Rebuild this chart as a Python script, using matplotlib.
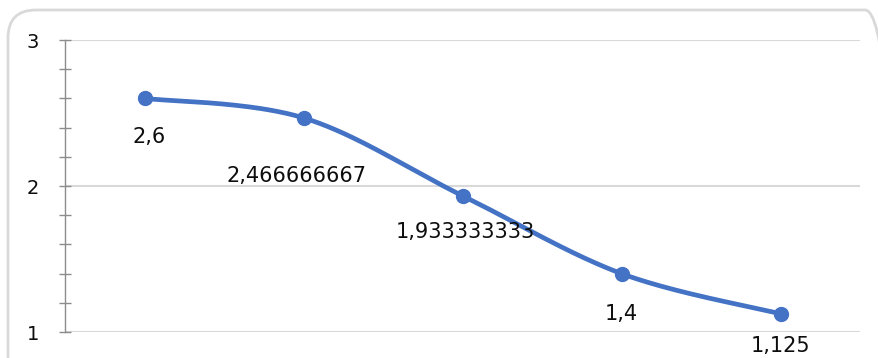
import numpy as np
import matplotlib
matplotlib.use("Agg")
import matplotlib.pyplot as plt
from matplotlib.patches import FancyBboxPatch
from matplotlib.ticker import MultipleLocator, NullFormatter

# Series data
categories = ["1", "2", "3", "4", "5"]
values = [2.6, 2.466666667, 1.933333333, 1.4, 1.125]
y_ticks = [1, 2, 3]

LINE_COLOR = "#4472C4"
GRID_COLOR = "#D9D9D9"
AXIS_COLOR = "#8C8C8C"
TEXT_COLOR = "#0D0D0D"

W, H, DPI = 879, 358, 100
fig = plt.figure(figsize=(W / DPI, H / DPI), dpi=DPI)
plt.rcParams["font.family"] = ["DejaVu Sans"]

# Rounded chart frame (inch coordinates)
frame = FancyBboxPatch((0.08, -0.3), 8.85, 3.78,
                       boxstyle="round,pad=0,rounding_size=0.28",
                       transform=fig.dpi_scale_trans, facecolor="none",
                       edgecolor="#D9D9D9", linewidth=2, zorder=-1)
fig.patches.append(frame)

left, right, top, bottom = 65, 860, 40, 332
ax = fig.add_axes([left / W, 1 - bottom / H, (right - left) / W, (bottom - top) / H])
ax.set_facecolor("none")

x = np.arange(len(values))


def smooth_curve(xs, ys, n=40):
    """Cubic Bezier smoothing through every point (Catmull-Rom style)."""
    pts = np.column_stack([xs, ys]).astype(float)
    out = []
    for i in range(len(pts) - 1):
        p0 = pts[i - 1] if i > 0 else pts[i]
        p1, p2 = pts[i], pts[i + 1]
        p3 = pts[i + 2] if i + 2 < len(pts) else pts[i + 1]
        c1 = p1 + (p2 - p0) / 6
        c2 = p2 - (p3 - p1) / 6
        t = np.linspace(0, 1, n)[:, None]
        seg = ((1 - t) ** 3) * p1 + 3 * ((1 - t) ** 2) * t * c1 \
            + 3 * (1 - t) * t ** 2 * c2 + t ** 3 * p2
        out.append(seg if i == 0 else seg[1:])
    return np.vstack(out)


curve = smooth_curve(x, values)
ax.plot(curve[:, 0], curve[:, 1], color=LINE_COLOR, linewidth=3.4,
        solid_capstyle="round", zorder=3)
ax.plot(x, values, "o", color=LINE_COLOR, markersize=10, zorder=4)

# Data labels below the points (offsets in points)
offsets = [(3, -28), (-5, -42), (2, -26), (0, -29), (0, -23)]
for xi, v, (dx, dy) in zip(x, values, offsets):
    label = f"{v:.10g}".replace(".", ",")
    ax.annotate(label, (xi, v), xytext=(dx, dy), textcoords="offset points",
                ha="center", va="center", fontsize=15, color=TEXT_COLOR,
                zorder=5, annotation_clip=False)

ax.set_xlim(-0.5, len(values) - 0.5)
ax.set_ylim(1, 3)
ax.set_yticks(y_ticks)
ax.set_yticklabels([str(t) for t in y_ticks])
ax.yaxis.set_minor_locator(MultipleLocator(0.2))
ax.yaxis.set_minor_formatter(NullFormatter())
ax.set_xticks([])

ax.grid(axis="y", which="major", color=GRID_COLOR, linewidth=1.5, zorder=1)
ax.set_axisbelow(True)
for s in ["top", "right", "bottom"]:
    ax.spines[s].set_visible(False)
ax.spines["left"].set_color(AXIS_COLOR)
ax.spines["left"].set_linewidth(1.0)

ax.tick_params(axis="y", which="both", direction="inout", length=9,
               width=1.0, color=AXIS_COLOR, labelsize=14, pad=14,
               labelcolor=TEXT_COLOR)

fig.savefig("out.png", dpi=DPI)
